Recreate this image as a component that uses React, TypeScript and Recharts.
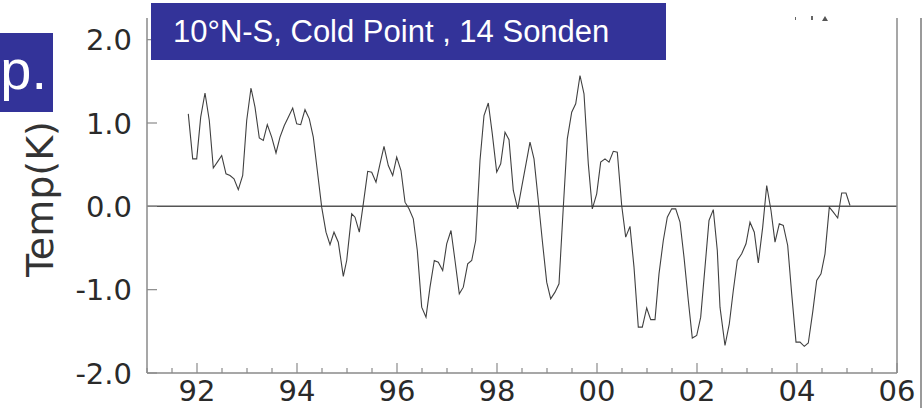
import { Line, LineChart, ReferenceLine, XAxis, YAxis } from "recharts";

// decimal years
const YEARS = [
  1991.826, 1991.914, 1991.994, 1992.074, 1992.16, 1992.246, 1992.326, 1992.406, 1992.494, 1992.58,
  1992.66, 1992.74, 1992.826, 1992.914, 1992.994, 1993.08, 1993.16, 1993.246, 1993.326, 1993.406,
  1993.494, 1993.58, 1993.66, 1993.746, 1993.826, 1993.914, 1993.994, 1994.074, 1994.16, 1994.246,
  1994.326, 1994.406, 1994.494, 1994.58, 1994.66, 1994.74, 1994.826, 1994.926, 1994.994, 1995.094,
  1995.16, 1995.246, 1995.326, 1995.414, 1995.494, 1995.58, 1995.66, 1995.74, 1995.826, 1995.914,
  1995.994, 1996.08, 1996.16, 1996.24, 1996.326, 1996.406, 1996.494, 1996.58, 1996.66, 1996.746,
  1996.826, 1996.914, 1996.994, 1997.08, 1997.16, 1997.246, 1997.326, 1997.414, 1997.494, 1997.574,
  1997.66, 1997.74, 1997.826, 1997.906, 1997.994, 1998.074, 1998.16, 1998.24, 1998.326, 1998.414,
  1998.494, 1998.58, 1998.66, 1998.74, 1998.826, 1998.906, 1998.994, 1999.074, 1999.16, 1999.24,
  1999.326, 1999.406, 1999.494, 1999.574, 1999.66, 1999.74, 1999.826, 1999.906, 1999.994, 2000.074,
  2000.16, 2000.24, 2000.326, 2000.406, 2000.494, 2000.574, 2000.66, 2000.74, 2000.826, 2000.906,
  2000.994, 2001.074, 2001.16, 2001.24, 2001.326, 2001.406, 2001.494, 2001.574, 2001.66, 2001.74,
  2001.826, 2001.906, 2001.994, 2002.074, 2002.16, 2002.24, 2002.326, 2002.406, 2002.46, 2002.56,
  2002.646, 2002.726, 2002.806, 2002.894, 2002.98, 2003.06, 2003.146, 2003.226, 2003.314, 2003.394,
  2003.48, 2003.56, 2003.646, 2003.726, 2003.814, 2003.894, 2003.98, 2004.06, 2004.146, 2004.226,
  2004.314, 2004.394, 2004.48, 2004.56, 2004.646, 2004.726, 2004.814, 2004.894, 2004.98, 2005.06,
];

// cold point temperature anomaly (K)
const TEMPS = [
  1.11, 0.57, 0.57, 1.07, 1.36, 1.03, 0.46, 0.53, 0.61, 0.39,
  0.37, 0.33, 0.2, 0.37, 1.03, 1.42, 1.19, 0.82, 0.79, 0.98,
  0.83, 0.64, 0.83, 0.97, 1.07, 1.18, 0.99, 0.98, 1.16, 1.05,
  0.83, 0.43, -0.01, -0.31, -0.46, -0.31, -0.43, -0.84, -0.65, -0.09,
  -0.13, -0.31, 0.03, 0.42, 0.41, 0.29, 0.51, 0.72, 0.49, 0.37,
  0.59, 0.43, 0.05, -0.03, -0.15, -0.53, -1.21, -1.33, -0.97, -0.65,
  -0.67, -0.77, -0.45, -0.29, -0.65, -1.05, -0.97, -0.69, -0.65, -0.41,
  0.55, 1.09, 1.24, 0.87, 0.41, 0.51, 0.89, 0.8, 0.19, -0.03,
  0.23, 0.51, 0.77, 0.57, 0.07, -0.41, -0.91, -1.11, -1.03, -0.93,
  -0.01, 0.81, 1.13, 1.23, 1.57, 1.35, 0.51, -0.03, 0.15, 0.53,
  0.57, 0.53, 0.66, 0.65, 0.01, -0.37, -0.24, -0.73, -1.45, -1.45,
  -1.22, -1.36, -1.36, -0.81, -0.41, -0.13, -0.03, -0.03, -0.19, -0.61,
  -1.13, -1.58, -1.55, -1.33, -0.73, -0.17, -0.04, -0.53, -1.21, -1.67,
  -1.41, -1.01, -0.65, -0.57, -0.45, -0.19, -0.31, -0.68, -0.25, 0.25,
  -0.05, -0.43, -0.21, -0.23, -0.47, -1.05, -1.63, -1.63, -1.68, -1.64,
  -1.27, -0.89, -0.81, -0.57, -0.01, -0.07, -0.14, 0.16, 0.16, 0.01,
];

const X_TICKS = [
  1991, 1991.5, 1992, 1992.5, 1993, 1993.5, 1994, 1994.5, 1995, 1995.5, 1996, 1996.5,
  1997, 1997.5, 1998, 1998.5, 1999, 1999.5, 2000, 2000.5, 2001, 2001.5, 2002, 2002.5,
  2003, 2003.5, 2004, 2004.5, 2005, 2005.5, 2006,
];
const MAJOR_YEARS = [1992, 1994, 1996, 1998, 2000, 2002, 2004, 2006];
const X_LABELS = ["92", "94", "96", "98", "00", "02", "04", "06"];
const Y_TICKS = [-2, -1, 0, 1, 2];
const Y_LABELS = ["-2.0", "-1.0", "0.0", "1.0", "2.0"];

const DATA = YEARS.map((x, i) => ({ x, t: TEMPS[i] }));

const AXIS = "#8a8a8a";
const INK = "#2a2a2a";
const FONT = "'DejaVu Sans', sans-serif";
const BLUE = "#333399";

function XTick({ x, y, payload }: any) {
  const i = MAJOR_YEARS.indexOf(payload.value);
  return (
    <g>
      <line x1={x} x2={x} y1={y} y2={y - (i >= 0 ? 10 : 5)} stroke={AXIS} strokeWidth={1.2} />
      {i >= 0 && (
        <text x={x} y={y + 28} textAnchor="middle" fontFamily={FONT} fontSize={29} fill={INK}>
          {X_LABELS[i]}
        </text>
      )}
    </g>
  );
}

function YTickLeft({ x, y, payload }: any) {
  const i = Y_TICKS.indexOf(payload.value);
  return (
    <g>
      <line x1={x} x2={x + 10} y1={y} y2={y} stroke={AXIS} strokeWidth={1.2} />
      <text x={x - 15} y={y + 10.5} textAnchor="end" fontFamily={FONT} fontSize={29} fill={INK}>
        {Y_LABELS[i]}
      </text>
    </g>
  );
}

function YTickRight({ x, y }: any) {
  return <line x1={x} x2={x - 10} y1={y} y2={y} stroke={AXIS} strokeWidth={1.2} />;
}

export default function App() {
  return (
    <div style={{ position: "absolute", left: 0, top: 0, width: 922, height: 408, background: "#fff", overflow: "hidden" }}>
      <LineChart width={922} height={408} data={DATA} margin={{ top: 18, right: 0, bottom: 0, left: 0 }}>
        <XAxis
          dataKey="x"
          type="number"
          domain={[1991, 2006]}
          ticks={X_TICKS}
          interval={0}
          tickSize={0}
          tickMargin={0}
          tickLine={false}
          axisLine={{ stroke: AXIS, strokeWidth: 1.5 }}
          tick={(p: any) => <XTick {...p} />}
          height={35}
        />
        <YAxis
          yAxisId="left"
          type="number"
          domain={[-2, 2.26]}
          ticks={Y_TICKS}
          interval={0}
          width={147}
          tickSize={0}
          tickMargin={0}
          tickLine={false}
          axisLine={{ stroke: AXIS, strokeWidth: 1.5 }}
          tick={(p: any) => <YTickLeft {...p} />}
        />
        <YAxis
          yAxisId="right"
          orientation="right"
          type="number"
          domain={[-2, 2.26]}
          ticks={Y_TICKS}
          interval={0}
          width={25}
          tickSize={0}
          tickMargin={0}
          tickLine={false}
          axisLine={{ stroke: AXIS, strokeWidth: 1.5 }}
          tick={(p: any) => <YTickRight {...p} />}
        />
        <ReferenceLine yAxisId="left" y={0} stroke="#555" strokeWidth={1.5} />
        <Line
          yAxisId="left"
          type="linear"
          dataKey="t"
          stroke="#404040"
          strokeWidth={1.1}
          dot={false}
          isAnimationActive={false}
        />
      </LineChart>

      <div
        style={{
          position: "absolute",
          left: 40,
          top: 199,
          transform: "translate(-50%, -50%) rotate(-90deg)",
          whiteSpace: "nowrap",
          fontFamily: FONT,
          fontSize: 38,
          color: "#333",
        }}
      >
        Temp(K)
      </div>

      <div style={{ position: "absolute", left: 920, top: 18, width: 1.5, height: 390, background: "#9a9a9a" }} />
      <div style={{ position: "absolute", left: 795, top: 17, width: 1, height: 3, background: "#666" }} />
      <div style={{ position: "absolute", left: 811, top: 16, width: 1.5, height: 4, background: "#666" }} />
      <div
        style={{
          position: "absolute",
          left: 822,
          top: 16,
          width: 0,
          height: 0,
          borderLeft: "3px solid transparent",
          borderRight: "3px solid transparent",
          borderBottom: "5px solid #555",
        }}
      />

      <div
        style={{
          position: "absolute",
          left: 151,
          top: 3,
          width: 515,
          height: 57,
          background: BLUE,
          color: "#fff",
          fontFamily: "'Liberation Sans', Arial, sans-serif",
          fontSize: 31,
          lineHeight: "57px",
          paddingLeft: 22,
          boxSizing: "border-box",
          whiteSpace: "nowrap",
        }}
      >
        10°N-S, Cold Point , 14 Sonden
      </div>

      <div
        style={{
          position: "absolute",
          left: 0,
          top: 33,
          width: 53,
          height: 79,
          background: BLUE,
        }}
      >
        <span
          style={{
            position: "absolute",
            right: 6,
            top: 9,
            color: "#fff",
            fontFamily: "'Liberation Sans', Arial, sans-serif",
            fontSize: 56,
            lineHeight: "56px",
            whiteSpace: "nowrap",
          }}
        >
          p.
        </span>
      </div>
    </div>
  );
}
